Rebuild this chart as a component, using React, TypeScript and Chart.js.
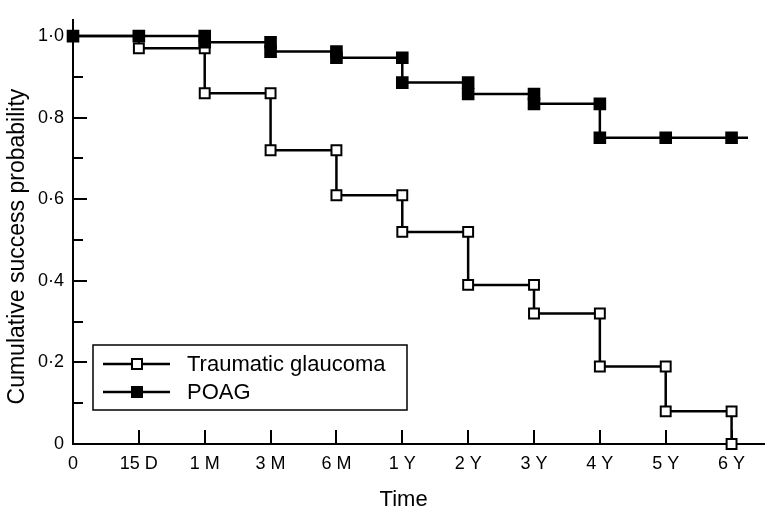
import React, { useEffect, useRef } from 'react';
import { Chart, registerables } from 'chart.js';

Chart.register(...registerables);

// ---- Data ----
const timeLabels = ['0', '15 D', '1 M', '3 M', '6 M', '1 Y', '2 Y', '3 Y', '4 Y', '5 Y', '6 Y'];
const traumaticSurvival = [1.0, 0.97, 0.86, 0.72, 0.61, 0.52, 0.39, 0.32, 0.19, 0.08, 0.0];
const poagSurvival = [1.0, 1.0, 0.985, 0.962, 0.947, 0.886, 0.858, 0.834, 0.751, 0.751, 0.751];
const poagLastFollowUp = 10.25;
const yTickLabels = ['0', '0·2', '0·4', '0·6', '0·8', '1·0'];
const seriesNames = ['Traumatic glaucoma', 'POAG'];
const xTitle = 'Time';
const yTitle = 'Cumulative success probability';

const FONT = "'Liberation Sans', Arial, Helvetica, sans-serif";

type Pt = { x: number; y: number; tail?: boolean };

function stepPoints(s: number[]): Pt[] {
  const pts: Pt[] = [{ x: 0, y: s[0] }];
  for (let i = 1; i < s.length; i++) {
    pts.push({ x: i, y: s[i - 1] });
    if (s[i] !== s[i - 1]) pts.push({ x: i, y: s[i] });
  }
  return pts;
}

const inwardTicks = {
  id: 'inwardTicks',
  beforeDatasetsDraw(chart: any) {
    const { ctx, chartArea, scales } = chart;
    const xs = scales.x;
    const ys = scales.y;
    ctx.save();
    ctx.strokeStyle = '#000';
    ctx.lineWidth = 2;
    ys.ticks.forEach((t: any) => {
      if (Math.abs(t.value) < 1e-9) return;
      const idx = Math.round(t.value * 10);
      const len = idx % 2 === 0 ? 14 : 10;
      const py = Math.round(ys.getPixelForValue(t.value));
      ctx.beginPath();
      ctx.moveTo(chartArea.left, py);
      ctx.lineTo(chartArea.left + len, py);
      ctx.stroke();
    });
    xs.ticks.forEach((t: any) => {
      if (Math.abs(t.value) < 1e-9) return;
      const px = Math.round(xs.getPixelForValue(t.value));
      ctx.beginPath();
      ctx.moveTo(px, chartArea.bottom);
      ctx.lineTo(px, chartArea.bottom - 14);
      ctx.stroke();
    });
    ctx.restore();
  },
};

const boxLegend = {
  id: 'boxLegend',
  afterDatasetsDraw(chart: any) {
    const { ctx, chartArea } = chart;
    const left = chartArea.left + 20;
    const top = chartArea.bottom - 99;
    const w = 314;
    const h = 65;
    ctx.save();
    ctx.fillStyle = '#fff';
    ctx.fillRect(left, top, w, h);
    ctx.strokeStyle = '#000';
    ctx.lineWidth = 1.5;
    ctx.strokeRect(left, top, w, h);
    chart.data.datasets.forEach((ds: any, i: number) => {
      const cy = top + 19 + i * 28;
      ctx.strokeStyle = '#000';
      ctx.lineWidth = 2.5;
      ctx.beginPath();
      ctx.moveTo(left + 10, cy);
      ctx.lineTo(left + 77, cy);
      ctx.stroke();
      const s = 10;
      ctx.lineWidth = 2;
      ctx.fillStyle = ds.pointBackgroundColor;
      ctx.fillRect(left + 44 - s / 2, cy - s / 2, s, s);
      ctx.strokeRect(left + 44 - s / 2, cy - s / 2, s, s);
      ctx.fillStyle = '#000';
      ctx.font = `22px ${FONT}`;
      ctx.textBaseline = 'middle';
      ctx.textAlign = 'left';
      ctx.fillText(ds.label, left + 94, cy + 1);
    });
    ctx.restore();
  },
};

const axisTitles = {
  id: 'axisTitles',
  afterDraw(chart: any) {
    const { ctx, scales } = chart;
    ctx.save();
    ctx.fillStyle = '#000';
    ctx.font = `22px ${FONT}`;
    ctx.textAlign = 'center';
    ctx.textBaseline = 'middle';
    ctx.fillText(xTitle, scales.x.getPixelForValue(5.02), 500);
    ctx.translate(18, scales.y.getPixelForValue(0.484));
    ctx.rotate(-Math.PI / 2);
    ctx.font = `23px ${FONT}`;
    ctx.fillText(yTitle, 0, 0);
    ctx.restore();
  },
};

export default function App() {
  const ref = useRef<HTMLCanvasElement>(null);

  useEffect(() => {
    if (!ref.current) return;
    const poagPts: Pt[] = stepPoints(poagSurvival);
    poagPts.push({ x: poagLastFollowUp, y: poagSurvival[poagSurvival.length - 1], tail: true });
    const traumaticPts = stepPoints(traumaticSurvival);

    const chart = new Chart(ref.current, {
      type: 'line',
      data: {
        datasets: [
          {
            label: seriesNames[0],
            data: traumaticPts,
            borderColor: '#000',
            borderWidth: 2.5,
            pointStyle: 'rect',
            pointRadius: 7,
            pointBorderWidth: 2,
            pointBorderColor: '#000',
            pointBackgroundColor: '#fff',
            tension: 0,
            clip: false,
            order: 1,
          } as any,
          {
            label: seriesNames[1],
            data: poagPts,
            borderColor: '#000',
            borderWidth: 2.5,
            pointStyle: 'rect',
            pointRadius: (c: any) => (c.raw && c.raw.tail ? 0 : 7.5),
            pointBorderWidth: 2,
            pointBorderColor: '#000',
            pointBackgroundColor: '#000',
            tension: 0,
            clip: false,
            order: 0,
          } as any,
        ],
      },
      options: {
        animation: false,
        responsive: true,
        maintainAspectRatio: false,
        events: [],
        layout: { padding: { top: 10, right: 1, left: 0, bottom: 0 } },
        font: { family: FONT },
        plugins: {
          legend: { display: false },
          tooltip: { enabled: false },
          title: { display: false },
        },
        scales: {
          x: {
            type: 'linear',
            min: 0,
            max: 10.5,
            afterFit: (s: any) => {
              s.height = 69;
            },
            border: { display: true, color: '#000', width: 2 },
            grid: { display: true, drawOnChartArea: false, drawTicks: false },
            ticks: {
              stepSize: 1,
              includeBounds: false,
              autoSkip: false,
              maxRotation: 0,
              padding: 9,
              color: '#000',
              font: { size: 18, family: FONT },
              callback: (v: any) => {
                const i = Math.round(Number(v));
                return Math.abs(Number(v) - i) < 1e-6 && i >= 0 && i < timeLabels.length ? timeLabels[i] : '';
              },
            },
          },
          y: {
            type: 'linear',
            min: 0,
            max: 1.04,
            afterFit: (s: any) => {
              s.width = 73;
            },
            border: { display: true, color: '#000', width: 2 },
            grid: { display: true, drawOnChartArea: false, drawTicks: false },
            ticks: {
              stepSize: 0.1,
              includeBounds: false,
              autoSkip: false,
              padding: 9,
              color: '#000',
              font: { size: 18, family: FONT },
              callback: (v: any) => {
                const i = Math.round(Number(v) * 10);
                return i % 2 === 0 ? yTickLabels[i / 2] ?? '' : '';
              },
            },
          },
        },
      } as any,
      plugins: [inwardTicks, boxLegend, axisTitles],
    });
    return () => chart.destroy();
  }, []);

  return (
    <div style={{ position: 'absolute', left: 0, top: 0, width: 774, height: 513, background: '#fff' }}>
      <canvas ref={ref} />
    </div>
  );
}
